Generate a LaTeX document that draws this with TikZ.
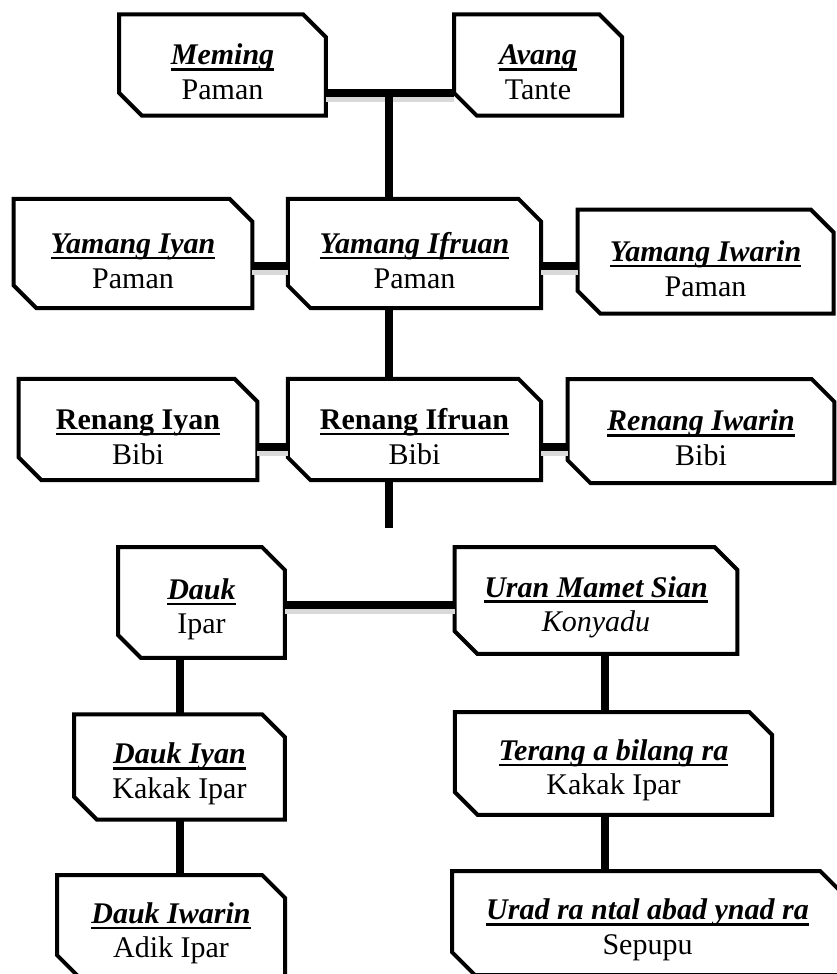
\documentclass[tikz,border=0pt]{standalone}
\usepackage{fontspec}
\setmainfont{Liberation Serif}
\usetikzlibrary{shapes.misc}

\newcommand\namebar[1]{\setbox0\hbox{#1}\rule{0pt}{26pt}\rlap{\rule[-4.4pt]{\wd0}{2pt}}\box0}

\begin{document}
\begin{tikzpicture}[x=0.75pt, y=-0.75pt,
    kin/.style={chamfered rectangle, chamfered rectangle corners={north east, south west},
      chamfered rectangle xsep=14pt, draw, line width=3pt, fill=white, inner sep=0pt,
      outer sep=0pt, align=center, font=\fontsize{22.5}{26}\selectfont},
    hlink/.style={line width=5.5pt, preaction={draw=black!15, line width=7pt,
      transform canvas={yshift=-3pt}}},
    vlink/.style={line width=5.5pt}]

    \useasboundingbox (0,0) rectangle (837,974);
    \clip (0,0) rectangle (837,974);

    \node[kin, minimum width=155pt, minimum height=76pt] (meming) at (222.5,65) {\namebar{\textbf{\textit{Meming}}}\\Paman};
    \node[kin, minimum width=126pt, minimum height=76pt] (avang) at (538,65) {\namebar{\textbf{\textit{Avang}}}\\Tante};

    \node[kin, minimum width=179pt, minimum height=82pt] (yiyan) at (133,253.5) {\namebar{\textbf{\textit{Yamang Iyan}}}\\Paman};
    \node[kin, minimum width=190pt, minimum height=82pt] (yifruan) at (414.5,253.5) {\namebar{\textbf{\textit{Yamang Ifruan}}}\\Paman};
    \node[kin, minimum width=192pt, minimum height=78pt] (yiwarin) at (705.5,261.5) {\namebar{\textbf{\textit{Yamang Iwarin}}}\\Paman};

    \node[kin, minimum width=179pt, minimum height=76pt] (riyan) at (138,429.5) {\namebar{\textbf{Renang Iyan}}\\Bibi};
    \node[kin, minimum width=190pt, minimum height=76pt] (rifruan) at (414.5,429.5) {\namebar{\textbf{Renang Ifruan}}\\Bibi};
    \node[kin, minimum width=200pt, minimum height=78pt] (riwarin) at (701,431) {\namebar{\textbf{\textit{Renang Iwarin}}}\\Bibi};

    \node[kin, minimum width=125pt, minimum height=83pt] (dauk) at (201.5,602.5) {\namebar{\textbf{\textit{Dauk}}}\\Ipar};
    \node[kin, minimum width=212pt, minimum height=80pt] (uran) at (596,600.5) {\namebar{\textbf{\textit{Uran Mamet Sian}}}\\\textit{Konyadu}};

    \node[kin, minimum width=158pt, minimum height=79pt] (diyan) at (179.5,767) {\namebar{\textbf{\textit{Dauk Iyan}}}\\Kakak Ipar};
    \node[kin, minimum width=238pt, minimum height=77pt] (terang) at (613.5,763.5) {\namebar{\textbf{\textit{Terang a bilang ra}}}\\Kakak Ipar};

    \node[kin, minimum width=171pt, minimum height=77pt] (diwarin) at (171,926.5) {\namebar{\textbf{\textit{Dauk Iwarin}}}\\Adik Ipar};
    \node[kin, minimum width=293pt, minimum height=78pt] (urad) at (647.5,923) {\namebar{\textbf{\textit{Urad ra ntal abad ynad ra}}}\\Sepupu};

    \coordinate (k1) at (389,93);
    \coordinate (r2) at (0,266);
    \coordinate (r3) at (0,447);
    \coordinate (r4) at (0,605);
    \coordinate (c1) at (180,0);
    \coordinate (c2) at (605,0);
    \coordinate (tail) at (389,528);

    \draw[hlink] (meming.east |- k1) -- (avang.west |- k1);
    \draw[vlink] (k1) -- (yifruan.north -| k1);
    \draw[hlink] (yiyan.east |- r2) -- (yifruan.west |- r2);
    \draw[hlink] (yifruan.east |- r2) -- (yiwarin.west |- r2);
    \draw[vlink] (yifruan.south -| k1) -- (rifruan.north -| k1);
    \draw[hlink] (riyan.east |- r3) -- (rifruan.west |- r3);
    \draw[hlink] (rifruan.east |- r3) -- (riwarin.west |- r3);
    \draw[vlink] (rifruan.south -| k1) -- (tail);
    \draw[hlink] (dauk.east |- r4) -- (uran.west |- r4);
    \draw[vlink] (dauk.south -| c1) -- (diyan.north -| c1);
    \draw[vlink] (diyan.south -| c1) -- (diwarin.north -| c1);
    \draw[vlink] (uran.south -| c2) -- (terang.north -| c2);
    \draw[vlink] (terang.south -| c2) -- (urad.north -| c2);

\end{tikzpicture}
\end{document}
